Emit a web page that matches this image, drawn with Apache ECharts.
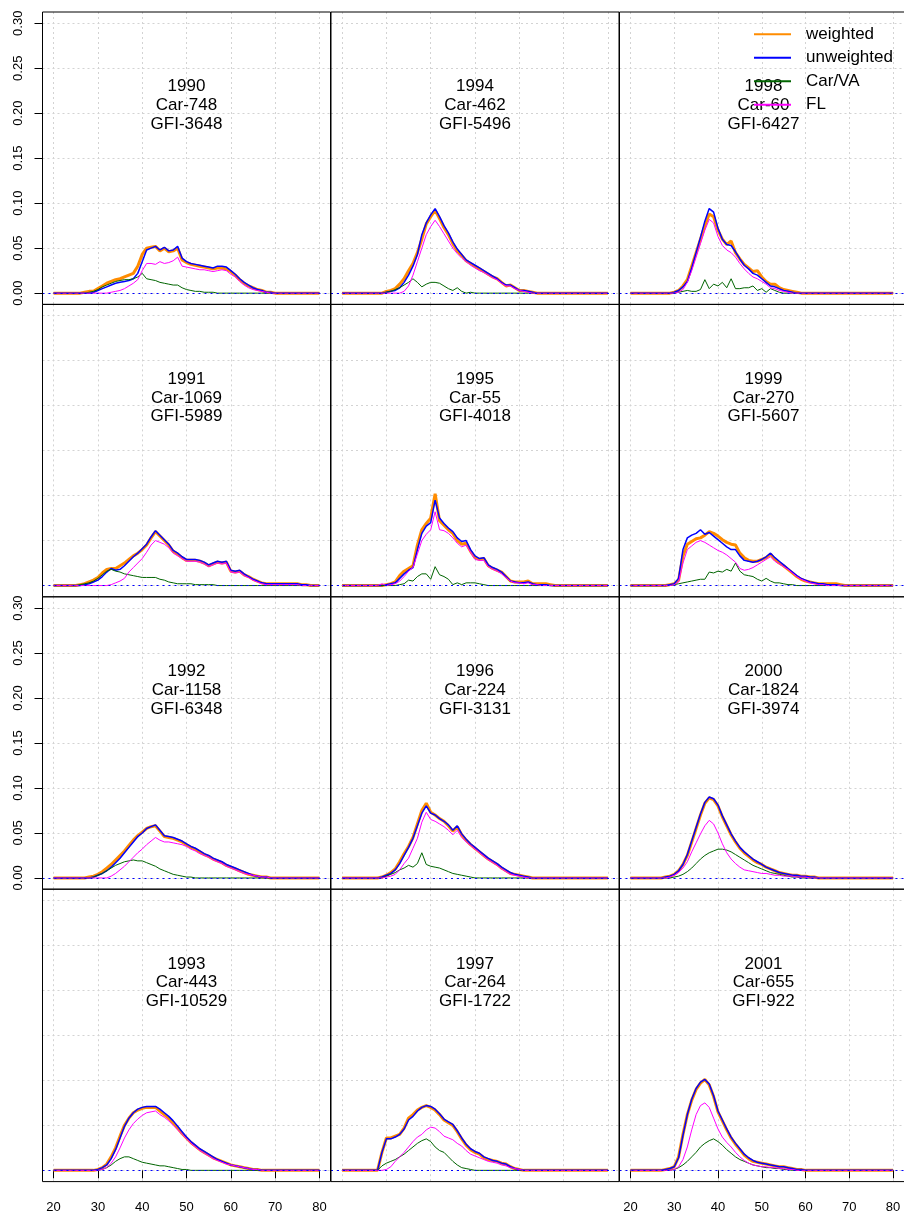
<!DOCTYPE html>
<html><head><meta charset="utf-8">
<script src="https://cdn.jsdelivr.net/npm/echarts@6/dist/echarts.min.js"></script>
<style>html,body{margin:0;padding:0;background:#fff}#c{width:904px;height:1222px}</style>
</head><body><div id="c"></div><script>
// ---------- data ----------
const ages = [20,21,22,23,24,25,26,27,28,29,30,31,32,33,34,35,36,37,38,39,40,41,42,43,44,45,46,47,48,49,50,51,52,53,54,55,56,57,58,59,60,61,62,63,64,65,66,67,68,69,70,71,72,73,74,75,76,77,78,79,80];
const years = [1990,1991,1992,1993,1994,1995,1996,1997,1998,1999,2000,2001];
const carCounts = [748,1069,1158,443,462,55,224,264,60,270,1824,655];
const gfiCounts = [3648,5989,6348,10529,5496,4018,3131,1722,6427,5607,3974,922];
const xTickLabels = [20,30,40,50,60,70,80];
const yTickLabels = [0,0.05,0.10,0.15,0.20,0.25,0.30];
const seriesNames = ['weighted','unweighted','Car/VA','FL'];

// 1990
const w1990 = [0,0,0,0,0,0,0,0.001,0.002,0.002,
 0.005,0.008,0.011,0.013,0.015,0.016,0.018,0.02,0.022,0.03,
 0.043,0.05,0.051,0.052,0.047,0.05,0.046,0.047,0.05,0.037,
 0.034,0.032,0.031,0.03,0.029,0.028,0.027,0.028,0.028,0.027,
 0.024,0.02,0.015,0.011,0.008,0.006,0.004,0.003,0.001,0.001,
 0,0,0,0,0,0,0,0,0,0,0];
const u1990 = [0,0,0,0,0,0,0,0,0,0.001,
 0.003,0.005,0.007,0.009,0.011,0.012,0.013,0.014,0.016,0.022,
 0.035,0.048,0.05,0.052,0.048,0.051,0.047,0.048,0.052,0.039,
 0.035,0.033,0.032,0.031,0.03,0.029,0.028,0.03,0.03,0.029,
 0.025,0.021,0.016,0.012,0.009,0.006,0.004,0.003,0.001,0.001,
 0,0,0,0,0,0,0,0,0,0,0];
const c1990 = [0,0,0,0,0,0,0,0,0.001,0.002,
 0.004,0.007,0.009,0.011,0.013,0.014,0.015,0.015,0.016,0.018,
 0.022,0.016,0.015,0.014,0.012,0.011,0.01,0.009,0.009,0.006,
 0.004,0.003,0.002,0.002,0.001,0.001,0.001,0,0,0,
 0,0,0,0,0,0,0,0,0,0,
 0,0,0,0,0,0,0,0,0,0,0];
const f1990 = [0,0,0,0,0,0,0,0,0,0,
 0,0,0,0.001,0.002,0.003,0.005,0.008,0.011,0.015,
 0.025,0.033,0.033,0.032,0.035,0.033,0.034,0.036,0.04,0.03,
 0.029,0.028,0.027,0.026,0.026,0.025,0.024,0.025,0.026,0.025,
 0.021,0.018,0.013,0.009,0.006,0.004,0.003,0.002,0.001,0,
 0,0,0,0,0,0,0,0,0,0,0];
// 1991
const w1991 = [0,0,0,0,0,0,0.001,0.002,0.004,0.006,
 0.009,0.014,0.018,0.019,0.019,0.022,0.025,0.029,0.033,0.036,
 0.04,0.045,0.053,0.06,0.055,0.05,0.045,0.038,0.035,0.031,
 0.028,0.028,0.028,0.027,0.025,0.022,0.024,0.026,0.025,0.026,
 0.016,0.015,0.016,0.012,0.01,0.007,0.005,0.003,0.002,0.002,
 0.002,0.002,0.002,0.002,0.002,0.002,0.001,0.001,0,0,0];
const u1991 = [0,0,0,0,0,0,0,0.001,0.002,0.004,
 0.006,0.01,0.015,0.019,0.017,0.018,0.022,0.027,0.032,0.036,
 0.041,0.046,0.054,0.061,0.056,0.051,0.046,0.039,0.036,0.032,
 0.029,0.029,0.029,0.028,0.026,0.023,0.025,0.027,0.026,0.027,
 0.017,0.016,0.017,0.013,0.01,0.007,0.005,0.003,0.002,0.002,
 0.002,0.002,0.002,0.002,0.002,0.002,0.001,0.001,0,0,0];
const c1991 = [0,0,0,0,0,0,0.001,0.002,0.003,0.005,
 0.008,0.012,0.016,0.018,0.016,0.015,0.013,0.012,0.011,0.01,
 0.009,0.009,0.009,0.009,0.007,0.006,0.004,0.003,0.002,0.002,
 0.002,0.002,0.001,0.001,0.001,0.001,0.001,0,0,0,
 0,0,0,0,0,0,0,0,0,0,
 0,0,0,0,0,0,0,0,0,0,0];
const f1991 = [0,0,0,0,0,0,0,0,0,0,
 0,0,0,0.001,0.003,0.005,0.008,0.015,0.02,0.025,
 0.03,0.037,0.045,0.05,0.048,0.046,0.042,0.036,0.033,0.03,
 0.027,0.027,0.027,0.026,0.024,0.021,0.023,0.025,0.024,0.025,
 0.015,0.014,0.015,0.011,0.009,0.006,0.004,0.002,0.001,0.001,
 0.001,0.001,0.001,0.001,0.001,0.001,0,0,0,0,0];
// 1992
const w1992 = [0,0,0,0,0,0,0,0,0.001,0.002,
 0.004,0.007,0.011,0.015,0.02,0.025,0.03,0.036,0.042,0.047,
 0.051,0.055,0.057,0.058,0.052,0.046,0.045,0.044,0.042,0.04,
 0.037,0.034,0.032,0.029,0.026,0.024,0.021,0.019,0.017,0.014,
 0.012,0.01,0.008,0.006,0.004,0.003,0.002,0.001,0.001,0,
 0,0,0,0,0,0,0,0,0,0,0];
const u1992 = [0,0,0,0,0,0,0,0,0,0.001,
 0.003,0.005,0.008,0.012,0.017,0.022,0.028,0.034,0.04,0.046,
 0.05,0.055,0.057,0.059,0.053,0.047,0.046,0.045,0.043,0.041,
 0.038,0.035,0.033,0.03,0.027,0.025,0.022,0.02,0.018,0.015,
 0.013,0.011,0.009,0.007,0.005,0.003,0.002,0.001,0.001,0,
 0,0,0,0,0,0,0,0,0,0,0];
const c1992 = [0,0,0,0,0,0,0,0,0,0.001,
 0.003,0.005,0.008,0.011,0.014,0.016,0.018,0.019,0.02,0.019,
 0.019,0.017,0.015,0.013,0.01,0.008,0.006,0.004,0.003,0.002,
 0.001,0.001,0,0,0,0,0,0,0,0,
 0,0,0,0,0,0,0,0,0,0,
 0,0,0,0,0,0,0,0,0,0,0];
const f1992 = [0,0,0,0,0,0,0,0,0,0,
 0,0,0,0.002,0.005,0.009,0.013,0.018,0.023,0.028,
 0.032,0.037,0.041,0.045,0.042,0.04,0.04,0.039,0.038,0.037,
 0.035,0.032,0.03,0.027,0.025,0.023,0.02,0.018,0.016,0.013,
 0.011,0.009,0.007,0.005,0.004,0.003,0.002,0.001,0.001,0,
 0,0,0,0,0,0,0,0,0,0,0];
// 1993
const w1993 = [0,0,0,0,0,0,0,0,0,0,
 0.001,0.003,0.007,0.015,0.025,0.038,0.05,0.058,0.064,0.067,
 0.069,0.07,0.07,0.07,0.066,0.062,0.058,0.053,0.047,0.041,
 0.036,0.031,0.027,0.023,0.02,0.017,0.014,0.012,0.01,0.008,
 0.006,0.005,0.004,0.003,0.002,0.001,0.001,0,0,0,
 0,0,0,0,0,0,0,0,0,0,0];
const u1993 = [0,0,0,0,0,0,0,0,0,0,
 0.001,0.003,0.006,0.013,0.023,0.036,0.049,0.058,0.064,0.068,
 0.07,0.071,0.071,0.071,0.068,0.064,0.06,0.055,0.049,0.043,
 0.037,0.032,0.028,0.024,0.021,0.018,0.015,0.012,0.01,0.008,
 0.006,0.005,0.004,0.003,0.002,0.001,0.001,0,0,0,
 0,0,0,0,0,0,0,0,0,0,0];
const c1993 = [0,0,0,0,0,0,0,0,0,0,
 0,0.001,0.003,0.006,0.01,0.013,0.015,0.015,0.013,0.011,
 0.009,0.008,0.007,0.006,0.005,0.005,0.004,0.003,0.002,0.001,
 0.001,0,0,0,0,0,0,0,0,0,
 0,0,0,0,0,0,0,0,0,0,
 0,0,0,0,0,0,0,0,0,0,0];
const f1993 = [0,0,0,0,0,0,0,0,0,0,
 0,0.001,0.003,0.008,0.015,0.025,0.036,0.045,0.052,0.057,
 0.061,0.064,0.065,0.066,0.062,0.059,0.055,0.05,0.045,0.04,
 0.035,0.03,0.026,0.022,0.019,0.016,0.013,0.011,0.009,0.007,
 0.006,0.005,0.004,0.003,0.002,0.001,0.001,0,0,0,
 0,0,0,0,0,0,0,0,0,0,0];
// 1994
const w1994 = [0,0,0,0,0,0,0,0,0,0,
 0.002,0.003,0.005,0.01,0.016,0.025,0.033,0.045,0.06,0.077,
 0.085,0.092,0.083,0.073,0.065,0.055,0.047,0.042,0.036,0.033,
 0.03,0.027,0.024,0.021,0.018,0.016,0.012,0.008,0.009,0.006,
 0.003,0.003,0.002,0.001,0,0,0,0,0,0,
 0,0,0,0,0,0,0,0,0,0,0];
const u1994 = [0,0,0,0,0,0,0,0,0,0,
 0.001,0.002,0.003,0.006,0.012,0.02,0.03,0.043,0.065,0.078,
 0.087,0.094,0.085,0.075,0.067,0.057,0.049,0.043,0.037,0.034,
 0.031,0.028,0.025,0.022,0.019,0.016,0.012,0.009,0.009,0.006,
 0.003,0.003,0.002,0.001,0,0,0,0,0,0,
 0,0,0,0,0,0,0,0,0,0,0];
const c1994 = [0,0,0,0,0,0,0,0,0,0,
 0.001,0.002,0.004,0.006,0.009,0.012,0.016,0.012,0.007,0.01,
 0.012,0.012,0.011,0.008,0.005,0.003,0.006,0.002,0,0.001,
 0,0,0,0,0,0,0,0,0,0,
 0,0,0,0,0,0,0,0,0,0,
 0,0,0,0,0,0,0,0,0,0,0];
const f1994 = [0,0,0,0,0,0,0,0,0,0,
 0,0,0,0,0.002,0.008,0.02,0.035,0.05,0.065,
 0.074,0.081,0.074,0.066,0.058,0.05,0.044,0.039,0.035,0.031,
 0.028,0.025,0.023,0.02,0.017,0.015,0.011,0.008,0.008,0.005,
 0.003,0.002,0.001,0,0,0,0,0,0,0,
 0,0,0,0,0,0,0,0,0,0,0];
// 1995
const w1995 = [0,0,0,0,0,0,0,0,0,0,
 0.001,0.002,0.004,0.011,0.016,0.019,0.022,0.045,0.062,0.069,
 0.075,0.102,0.072,0.067,0.062,0.058,0.05,0.046,0.047,0.038,
 0.031,0.029,0.03,0.022,0.019,0.017,0.015,0.01,0.005,0.004,
 0.004,0.004,0.005,0.002,0.002,0.002,0.002,0.001,0,0,
 0,0,0,0,0,0,0,0,0,0,0];
const u1995 = [0,0,0,0,0,0,0,0,0,0,
 0.001,0.002,0.003,0.008,0.013,0.017,0.02,0.04,0.058,0.066,
 0.07,0.095,0.075,0.069,0.064,0.06,0.053,0.049,0.05,0.04,
 0.033,0.03,0.031,0.023,0.02,0.018,0.015,0.01,0.005,0.004,
 0.003,0.003,0.004,0.002,0.001,0.001,0.001,0,0,0,
 0,0,0,0,0,0,0,0,0,0,0];
const c1995 = [0,0,0,0,0,0,0,0,0,0,
 0,0,0,0.001,0.002,0.006,0.005,0.01,0.013,0.013,
 0.007,0.021,0.012,0.01,0.007,0.001,0.003,0.001,0.003,0.003,
 0.003,0.002,0.001,0,0,0,0,0,0,0,
 0,0,0,0,0,0,0,0,0,0,
 0,0,0,0,0,0,0,0,0,0,0];
const f1995 = [0,0,0,0,0,0,0,0,0,0.002,
 0,0.001,0.002,0.005,0.01,0.016,0.02,0.035,0.05,0.057,
 0.062,0.082,0.062,0.061,0.058,0.053,0.047,0.043,0.045,0.037,
 0.029,0.028,0.028,0.021,0.018,0.016,0.013,0.009,0.005,0.003,
 0.003,0.002,0.003,0.001,0.001,0,0,0,0,0,
 0,0,0,0,0,0,0,0,0,0,0];
// 1996
const w1996 = [0,0,0,0,0,0,0,0,0,0.001,
 0.003,0.006,0.01,0.018,0.027,0.035,0.045,0.06,0.075,0.083,
 0.073,0.07,0.066,0.063,0.058,0.052,0.057,0.048,0.042,0.037,
 0.033,0.029,0.025,0.021,0.018,0.015,0.011,0.008,0.005,0.004,
 0.003,0.002,0.001,0,0,0,0,0,0,0,
 0,0,0,0,0,0,0,0,0,0,0];
const u1996 = [0,0,0,0,0,0,0,0,0,0.001,
 0.003,0.005,0.009,0.016,0.025,0.034,0.044,0.058,0.072,0.08,
 0.072,0.07,0.066,0.063,0.059,0.053,0.058,0.049,0.043,0.038,
 0.034,0.03,0.026,0.022,0.019,0.016,0.012,0.009,0.006,0.004,
 0.003,0.002,0.001,0,0,0,0,0,0,0,
 0,0,0,0,0,0,0,0,0,0,0];
const c1996 = [0,0,0,0,0,0,0,0,0,0,
 0.002,0.004,0.006,0.009,0.011,0.014,0.012,0.016,0.028,0.015,
 0.013,0.012,0.011,0.009,0.007,0.005,0.004,0.003,0.002,0.001,
 0,0,0,0,0,0,0,0,0,0,
 0,0,0,0,0,0,0,0,0,0,
 0,0,0,0,0,0,0,0,0,0,0];
const f1996 = [0,0,0,0,0,0,0,0,0,0,
 0.001,0.002,0.004,0.009,0.016,0.022,0.033,0.044,0.062,0.073,
 0.065,0.063,0.06,0.057,0.053,0.048,0.053,0.045,0.04,0.036,
 0.032,0.028,0.024,0.02,0.017,0.014,0.01,0.007,0.004,0.003,
 0.002,0.001,0,0,0,0,0,0,0,0,
 0,0,0,0,0,0,0,0,0,0,0];
// 1997
const w1997 = [0,0,0,0,0,0,0,0,0,0.02,
 0.036,0.036,0.038,0.04,0.047,0.058,0.062,0.067,0.07,0.072,
 0.07,0.067,0.062,0.056,0.053,0.05,0.043,0.035,0.028,0.023,
 0.02,0.018,0.014,0.012,0.011,0.01,0.008,0.007,0.004,0.002,
 0.001,0,0,0,0,0,0,0,0,0,
 0,0,0,0,0,0,0,0,0,0,0];
const u1997 = [0,0,0,0,0,0,0,0,0,0.02,
 0.035,0.035,0.037,0.04,0.046,0.056,0.06,0.066,0.07,0.072,
 0.071,0.068,0.063,0.057,0.054,0.051,0.044,0.036,0.029,0.024,
 0.021,0.019,0.015,0.013,0.011,0.01,0.008,0.007,0.004,0.002,
 0.001,0,0,0,0,0,0,0,0,0,
 0,0,0,0,0,0,0,0,0,0,0];
const c1997 = [0,0,0,0,0,0,0,0,0,0.005,
 0.008,0.01,0.012,0.015,0.018,0.022,0.026,0.03,0.033,0.035,
 0.032,0.026,0.022,0.02,0.015,0.01,0.006,0.003,0.002,0.001,
 0,0,0,0,0,0,0,0,0,0,
 0,0,0,0,0,0,0,0,0,0,
 0,0,0,0,0,0,0,0,0,0,0];
const f1997 = [0,0,0,0,0,0,0,0,0,0,
 0.001,0.004,0.01,0.015,0.02,0.026,0.032,0.037,0.04,0.045,
 0.048,0.047,0.043,0.038,0.036,0.034,0.03,0.027,0.022,0.018,
 0.016,0.014,0.012,0.01,0.009,0.008,0.006,0.005,0.003,0.002,
 0.001,0,0,0,0,0,0,0,0,0,
 0,0,0,0,0,0,0,0,0,0,0];
// 1998
const w1998 = [0,0,0,0,0,0,0,0,0,0,
 0.001,0.003,0.008,0.015,0.03,0.045,0.06,0.075,0.088,0.085,
 0.07,0.06,0.054,0.058,0.045,0.038,0.032,0.028,0.024,0.025,
 0.018,0.013,0.01,0.01,0.006,0.004,0.003,0.002,0.001,0,
 0,0,0,0,0,0,0,0,0,0,
 0,0,0,0,0,0,0,0,0,0,0];
const u1998 = [0,0,0,0,0,0,0,0,0,0,
 0.001,0.003,0.007,0.013,0.028,0.045,0.062,0.08,0.094,0.09,
 0.072,0.06,0.054,0.053,0.046,0.038,0.031,0.027,0.022,0.02,
 0.016,0.012,0.008,0.007,0.005,0.003,0.002,0.001,0,0,
 0,0,0,0,0,0,0,0,0,0,
 0,0,0,0,0,0,0,0,0,0,0];
const c1998 = [0,0,0,0,0,0,0,0,0,0,
 0,0.001,0.002,0.003,0.002,0.002,0.004,0.015,0.005,0.01,
 0.008,0.012,0.006,0.016,0.005,0.005,0.006,0.006,0.008,0.003,
 0.005,0.001,0.005,0.003,0.001,0,0,0,0,0,
 0,0,0,0,0,0,0,0,0,0,
 0,0,0,0,0,0,0,0,0,0,0];
const f1998 = [0,0,0,0,0,0,0,0,0,0,
 0,0.001,0.004,0.012,0.025,0.04,0.055,0.07,0.082,0.078,
 0.063,0.053,0.048,0.045,0.04,0.033,0.027,0.022,0.018,0.016,
 0.013,0.01,0.006,0.005,0.003,0.002,0.001,0,0,0,
 0,0,0,0,0,0,0,0,0,0,
 0,0,0,0,0,0,0,0,0,0,0];
// 1999
const w1999 = [0,0,0,0,0,0,0,0,0,0.001,
 0.002,0.006,0.033,0.046,0.049,0.052,0.053,0.056,0.06,0.058,
 0.055,0.051,0.048,0.046,0.045,0.036,0.031,0.028,0.027,0.027,
 0.029,0.031,0.035,0.029,0.025,0.022,0.018,0.014,0.01,0.007,
 0.005,0.004,0.003,0.002,0.002,0.002,0.002,0.002,0.001,0,
 0,0,0,0,0,0,0,0,0,0,0];
const u1999 = [0,0,0,0,0,0,0,0,0,0.001,
 0.002,0.008,0.04,0.053,0.056,0.058,0.062,0.057,0.059,0.055,
 0.051,0.047,0.043,0.04,0.04,0.033,0.028,0.027,0.026,0.027,
 0.029,0.032,0.036,0.031,0.027,0.023,0.019,0.015,0.011,0.008,
 0.006,0.004,0.003,0.002,0.002,0.001,0.001,0.001,0,0,
 0,0,0,0,0,0,0,0,0,0,0];
const c1999 = [0,0,0,0,0,0,0,0,0,0,
 0.001,0.002,0.003,0.004,0.005,0.006,0.007,0.007,0.015,0.014,
 0.016,0.015,0.018,0.016,0.025,0.016,0.012,0.011,0.01,0.007,
 0.005,0.008,0.005,0.003,0.003,0.002,0.001,0.001,0,0,
 0,0,0,0,0,0,0,0,0,0,
 0,0,0,0,0,0,0,0,0,0,0];
const f1999 = [0,0,0,0,0,0,0,0,0,0,
 0.001,0.004,0.025,0.04,0.044,0.048,0.05,0.048,0.045,0.042,
 0.039,0.037,0.034,0.03,0.026,0.019,0.017,0.018,0.02,0.023,
 0.026,0.029,0.032,0.027,0.024,0.021,0.018,0.014,0.01,0.007,
 0.005,0.003,0.002,0.001,0.001,0,0,0,0,0,
 0,0,0,0,0,0,0,0,0,0,0];
// 2000
const w2000 = [0,0,0,0,0,0,0,0,0.001,0.002,
 0.004,0.008,0.015,0.025,0.04,0.055,0.07,0.083,0.089,0.087,
 0.08,0.068,0.058,0.048,0.04,0.033,0.028,0.024,0.02,0.017,
 0.015,0.012,0.01,0.008,0.006,0.005,0.004,0.003,0.003,0.002,
 0.002,0.001,0.001,0,0,0,0,0,0,0,
 0,0,0,0,0,0,0,0,0,0,0];
const u2000 = [0,0,0,0,0,0,0,0,0.001,0.002,
 0.004,0.008,0.015,0.026,0.041,0.056,0.071,0.084,0.09,0.088,
 0.081,0.069,0.059,0.049,0.041,0.034,0.029,0.025,0.021,0.018,
 0.015,0.012,0.01,0.008,0.006,0.005,0.004,0.003,0.003,0.002,
 0.002,0.001,0.001,0,0,0,0,0,0,0,
 0,0,0,0,0,0,0,0,0,0,0];
const c2000 = [0,0,0,0,0,0,0,0,0,0,
 0.001,0.002,0.004,0.007,0.011,0.016,0.021,0.025,0.028,0.03,
 0.032,0.032,0.031,0.029,0.026,0.023,0.02,0.017,0.014,0.012,
 0.01,0.008,0.006,0.005,0.004,0.003,0.002,0.001,0.001,0,
 0,0,0,0,0,0,0,0,0,0,
 0,0,0,0,0,0,0,0,0,0,0];
const f2000 = [0,0,0,0,0,0,0,0,0,0.001,
 0.003,0.006,0.011,0.018,0.029,0.039,0.049,0.058,0.064,0.06,
 0.05,0.038,0.028,0.021,0.016,0.012,0.009,0.008,0.007,0.006,
 0.005,0.005,0.004,0.003,0.003,0.002,0.002,0.002,0.001,0.001,
 0.001,0,0,0,0,0,0,0,0,0,
 0,0,0,0,0,0,0,0,0,0,0];
// 2001
const w2001 = [0,0,0,0,0,0,0,0,0.001,0.002,
 0.004,0.015,0.04,0.062,0.078,0.09,0.097,0.101,0.095,0.082,
 0.065,0.055,0.045,0.036,0.029,0.023,0.017,0.013,0.01,0.009,
 0.008,0.007,0.006,0.005,0.004,0.004,0.003,0.002,0.001,0.001,
 0,0,0,0,0,0,0,0,0,0,
 0,0,0,0,0,0,0,0,0,0,0];
const u2001 = [0,0,0,0,0,0,0,0,0.001,0.002,
 0.004,0.014,0.039,0.062,0.079,0.091,0.098,0.101,0.096,0.083,
 0.066,0.056,0.046,0.037,0.03,0.024,0.018,0.014,0.011,0.009,
 0.008,0.007,0.006,0.005,0.004,0.004,0.003,0.002,0.001,0.001,
 0,0,0,0,0,0,0,0,0,0,
 0,0,0,0,0,0,0,0,0,0,0];
const c2001 = [0,0,0,0,0,0,0,0,0,0,
 0.001,0.003,0.006,0.01,0.015,0.02,0.026,0.03,0.033,0.035,
 0.032,0.028,0.023,0.019,0.015,0.012,0.01,0.008,0.006,0.005,
 0.004,0.003,0.003,0.002,0.002,0.001,0.001,0,0,0,
 0,0,0,0,0,0,0,0,0,0,
 0,0,0,0,0,0,0,0,0,0,0];
const f2001 = [0,0,0,0,0,0,0,0,0,0,
 0.001,0.004,0.012,0.026,0.045,0.062,0.072,0.075,0.07,0.058,
 0.046,0.037,0.031,0.026,0.02,0.015,0.011,0.008,0.006,0.005,
 0.004,0.004,0.003,0.003,0.002,0.002,0.001,0.001,0,0,
 0,0,0,0,0,0,0,0,0,0,
 0,0,0,0,0,0,0,0,0,0,0];

const weighted   = [w1990,w1991,w1992,w1993,w1994,w1995,w1996,w1997,w1998,w1999,w2000,w2001];
const unweighted = [u1990,u1991,u1992,u1993,u1994,u1995,u1996,u1997,u1998,u1999,u2000,u2001];
const carva      = [c1990,c1991,c1992,c1993,c1994,c1995,c1996,c1997,c1998,c1999,c2000,c2001];
const fl         = [f1990,f1991,f1992,f1993,f1994,f1995,f1996,f1997,f1998,f1999,f2000,f2001];

// ---------- layout ----------
const colLeft = [42.5, 331, 619.5], panelW = 288;
const rowTop = [12, 304.4, 596.8, 889.2], panelH = 292.4;
const X_MIN = 17.5, X_MAX = 82.5, Y_MIN = -0.0125, Y_MAX = 0.3125;
const FONT = '"Liberation Sans", Arial, sans-serif';
const colors = ['#FF8C00', '#0000FF', '#006400', '#FF00FF'];
const widths = [3, 1.5, 1, 1];
const gridLine = {color: '#d3d3d3', type: [2, 3], width: 1};

const grids = [], xAxes = [], yAxes = [], series = [], graphics = [];
years.forEach((yr, i) => {
  const col = Math.floor(i / 4), row = i % 4;
  const left = colLeft[col], top = rowTop[row];
  grids.push({left: left, top: top, width: panelW, height: panelH, show: false});
  const showX = row === 3 && col !== 1;
  const showY = col === 0 && (row === 0 || row === 2);
  xAxes.push({
    gridIndex: i, type: 'value', min: X_MIN, max: X_MAX,
    axisLine: {show: false},
    axisTick: {show: showX, customValues: xTickLabels, length: 8, lineStyle: {color: '#000'}},
    axisLabel: {show: showX, customValues: xTickLabels, margin: 19, fontSize: 13, color: '#000', fontFamily: FONT},
    splitLine: {show: true, lineStyle: gridLine}
  });
  yAxes.push({
    gridIndex: i, type: 'value', min: Y_MIN, max: Y_MAX,
    axisLine: {show: false},
    axisTick: {show: showY, customValues: yTickLabels, length: 8, lineStyle: {color: '#000'}},
    axisLabel: {show: showY, customValues: yTickLabels, rotate: 90, margin: 18, align: 'center', verticalAlign: 'bottom',
      fontSize: 13, color: '#000', fontFamily: FONT, formatter: v => Number(v).toFixed(2)},
    splitLine: {show: true, lineStyle: gridLine}
  });
  const sets = [weighted[i], unweighted[i], carva[i], fl[i]];
  sets.forEach((vals, k) => {
    const s = {
      type: 'line', name: seriesNames[k], xAxisIndex: i, yAxisIndex: i,
      data: ages.map((a, j) => [a, vals[j]]),
      symbol: 'none', showSymbol: false, silent: true, animation: false,
      lineStyle: {color: colors[k], width: widths[k]},
      itemStyle: {color: colors[k]}
    };
    if (k === 3) {
      s.markLine = {silent: true, symbol: 'none', animation: false, label: {show: false},
        lineStyle: {color: '#0000FF', type: [2, 4], width: 1, opacity: 1}, data: [{yAxis: 0}]};
    }
    series.push(s);
  });
  graphics.push({type: 'rect', silent: true, z: 100,
    shape: {x: left, y: top, width: panelW, height: panelH},
    style: {fill: 'none', stroke: '#000', lineWidth: 1}});
  graphics.push({type: 'text', silent: true, z: 50,
    x: left + panelW / 2, y: top + 93.5,
    style: {text: yr + '\nCar-' + carCounts[i] + '\nGFI-' + gfiCounts[i],
      font: '17px ' + FONT, fill: '#000', align: 'center', verticalAlign: 'middle', lineHeight: 18.7}});
});

const chart = echarts.init(document.getElementById('c'), null, {renderer: 'canvas'});
chart.setOption({
  backgroundColor: '#fff',
  animation: false,
  grid: grids, xAxis: xAxes, yAxis: yAxes, series: series,
  legend: {
    data: seriesNames, left: 753, top: 20.8, orient: 'vertical', padding: 0,
    itemWidth: 37, itemHeight: 14, itemGap: -3.5, selectedMode: false, z: 200,
    itemStyle: {opacity: 0},
    textStyle: {fontSize: 17, fontFamily: FONT, color: '#000', lineHeight: 17, padding: [10, 0, 0, 10]}
  },
  graphic: graphics
});
</script></body></html>
